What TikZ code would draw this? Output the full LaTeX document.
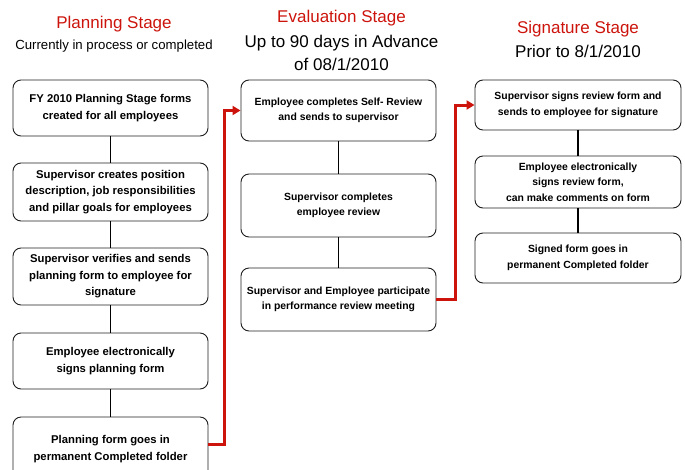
\documentclass[tikz,border=0pt]{standalone}
\usepackage{fontspec}
\setmainfont{Liberation Sans}
\usetikzlibrary{arrows.meta,calc}
\definecolor{stagered}{RGB}{204,20,12}
\definecolor{boxline}{RGB}{30,30,30}
\begin{document}
\begin{tikzpicture}[x=1pt,y=-1pt,
  stepbox/.style={draw=boxline, line width=0.9pt, rounded corners=8pt, align=center, inner sep=0pt},
  colA/.style={stepbox, minimum width=195pt, font=\bfseries\fontsize{11.3}{16.5}\selectfont},
  colB/.style={stepbox, minimum width=195pt, font=\bfseries\fontsize{10.4}{15}\selectfont},
  colC/.style={stepbox, minimum width=206pt, font=\bfseries\fontsize{10.4}{15.5}\selectfont},
  link/.style={draw=black, line width=1.5pt},
  redlink/.style={draw=stagered, line width=3pt, -{Triangle[length=8pt,width=9pt]}},
  stagetitle/.style={text=stagered, font=\fontsize{17}{20}\selectfont, anchor=base, inner sep=0pt},
  stagesub/.style={font=\fontsize{17}{20}\selectfont, anchor=base, inner sep=0pt}
]
\useasboundingbox (0,0) rectangle (685,469);

% titles
\node[stagetitle] (t1) at (114,28.5) {Planning Stage};
\node[stagesub, font=\fontsize{13.2}{16}\selectfont] (s1) at (114,49) {Currently in process or completed};
\node[stagetitle] (t2) at (341.5,22) {Evaluation Stage};
\node[stagesub] (s2) at (341.5,47) {Up to 90 days in Advance};
\node[stagesub] (s2b) at (341.5,70) {of 08/1/2010};
\node[stagetitle] (t3) at (578,33) {Signature Stage};
\node[stagesub] (s3) at (578,57) {Prior to 8/1/2010};

% column 1
\node[colA, minimum height=56pt] (a1) at (110.5,108) {FY 2010 Planning Stage forms\\created for all employees};
\node[colA, minimum height=58pt] (a2) at (110.5,192) {Supervisor creates position\\description, job responsibilities\\and pillar goals for employees};
\node[colA, minimum height=57pt] (a3) at (110.5,276.5) {Supervisor verifies and sends\\planning form to employee for\\signature};
\node[colA, minimum height=56pt] (a4) at (110.5,361) {Employee electronically\\signs planning form};
\node[colA, minimum height=64pt] (a5) at (110.5,449) {Planning form goes in\\permanent Completed folder};

% column 2
\node[colB, minimum height=61pt] (b1) at (338.5,110.5) {Employee completes Self- Review\\and sends to supervisor};
\node[colB, minimum height=63pt] (b2) at (338.5,205.5) {Supervisor completes\\employee review};
\node[colB, minimum height=63pt] (b3) at (338.5,299.5) {Supervisor and Employee participate\\in performance review meeting};

% column 3
\node[colC, minimum height=50pt] (c1) at (578,105) {Supervisor signs review form and\\sends to employee for signature};
\node[colC, minimum height=52pt] (c2) at (578,182) {Employee electronically\\signs review form,\\can make comments on form};
\node[colC, minimum height=50pt] (c3) at (578,258) {Signed form goes in\\permanent Completed folder};

% links
\draw[link] (a1.south) -- (a2.north);
\draw[link] (a2.south) -- (a3.north);
\draw[link] (a3.south) -- (a4.north);
\draw[link] (a4.south) -- (a5.north);
\draw[link] (b1.south) -- (b2.north);
\draw[link] (b2.south) -- (b3.north);
\draw[link] (c1.south) -- (c2.north);
\draw[link] (c2.south) -- (c3.north);

\draw[redlink] ([yshift=5pt]a5.east) -- ++(16,0) |- (b1.west);
\draw[redlink] (b3.east) -- ++(19,0) |- (c1.west);
\end{tikzpicture}
\end{document}
